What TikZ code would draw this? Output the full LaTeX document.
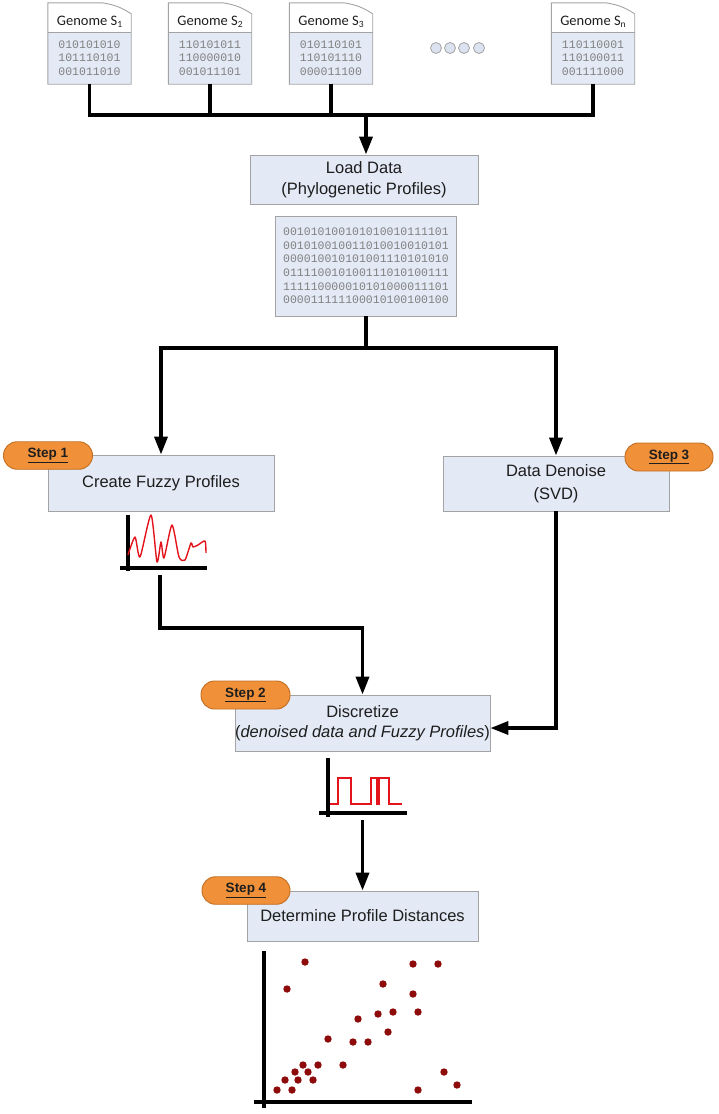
\documentclass[tikz,border=0pt]{standalone}
\usepackage{fontspec}
\setmainfont{Liberation Sans}
\newfontfamily\calf{Carlito}
\newfontfamily\monof{Liberation Mono}
\usetikzlibrary{arrows.meta}
\definecolor{boxfill}{HTML}{E3E9F5}
\definecolor{boxline}{HTML}{A3A3A3}
\definecolor{badgefill}{HTML}{F0913A}
\definecolor{badgeline}{HTML}{C26E22}
\definecolor{bitgray}{HTML}{808080}
\definecolor{txt}{HTML}{1E1E1E}
\definecolor{curvered}{HTML}{E3141C}
\definecolor{dotred}{HTML}{8E0B0B}
\definecolor{dotfill}{HTML}{DCE3F0}
\newcommand\gsub[1]{\raisebox{-2.2pt}{\fontsize{9.5}{10}\selectfont #1}}
\newcommand\gdoc[6]{%
  \node[docnode] (#1) at (#2,43.5) {};
  \fill[boxfill] ([yshift=-30pt]#1.north west) rectangle (#1.south east);
  \draw[boxline, line width=0.9pt] ([yshift=-30pt]#1.north west) -- ([yshift=-30pt]#1.north east);
  \draw[boxline, line width=0.9pt] (#1.north west) -- ([xshift=-29pt]#1.north east)
     to[bend left=12] ([yshift=-11pt]#1.north east) -- (#1.south east) -- (#1.south west) -- cycle;
  \node[doclabel] at ([yshift=-19pt]#1.north) {#3};
  \node[bits] at ([yshift=-55pt]#1.north) {#4\\#5\\#6};
}
\tikzset{
  docnode/.style={minimum width=83pt, minimum height=81pt, inner sep=0pt},
  doclabel/.style={font=\calf\fontsize{14.5}{16}\selectfont, text=txt, inner sep=0pt},
  bits/.style={font=\monof\fontsize{11.5}{13.5}\selectfont, text=bitgray, align=center, inner sep=0pt},
  procbox/.style={draw=boxline, fill=boxfill, line width=0.9pt, inner sep=0pt, align=center,
     text=txt, font=\fontsize{16.5}{21}\selectfont},
  badge/.style={draw=badgeline, fill=badgefill, line width=0.9pt, rounded corners=13.5pt,
     minimum width=89pt, minimum height=27.5pt, inner sep=0pt, text=txt,
     font=\bfseries\fontsize{13.5}{16}\selectfont},
  conn/.style={line width=3.5pt, black},
  arr/.style={conn, -{Triangle[width=13pt,length=18pt]}},
  axis/.style={line width=3.2pt, black},
}
\begin{document}
\begin{tikzpicture}[x=1pt,y=-1pt]
\useasboundingbox (0,0) rectangle (718,1114);
% genome documents
\gdoc{g1}{89.5}{Genome S\gsub{1}}{010101010}{101110101}{001011010}
\gdoc{g2}{210}{Genome S\gsub{2}}{110101011}{110000010}{001011101}
\gdoc{g3}{331}{Genome S\gsub{3}}{010110101}{110101110}{000011100}
\gdoc{gn}{593}{Genome S\gsub{n}}{110110001}{110100011}{001111000}
% ellipsis dots
\foreach \x/\n in {436/d1,450/d2,464/d3,479/d4}
  \node[circle, draw=boxline, fill=dotfill, line width=0.8pt, minimum size=11pt, inner sep=0pt] (\n) at (\x,48) {};
% boxes
\node[procbox, minimum width=228pt, minimum height=49pt] (load) at (364,179.5)
  {Load Data\\(Phylogenetic Profiles)};
\node[procbox, minimum width=181pt, minimum height=100pt,
  font=\monof\fontsize{11.5}{13.6}\selectfont, text=bitgray] (mat) at (366,266)
  {001010100101010010111101\\001010010011010010010101\\000010010101001110101010\\011110010100111010100111\\111110000010101000011101\\000011111100010100100100};
\node[procbox, minimum width=226pt, minimum height=56pt] (fuzzy) at (161,483) {Create Fuzzy Profiles};
\node[procbox, minimum width=226pt, minimum height=55pt, font=\fontsize{16.5}{23}\selectfont] (denoise) at (556,483.5) {Data Denoise\\(SVD)};
\node[procbox, minimum width=233pt, minimum height=56pt, font=\fontsize{16.5}{20}\selectfont] (disc) at (362.5,723)
  {Discretize\\(\textit{denoised data and Fuzzy Profiles})};
\node[procbox, minimum width=231pt, minimum height=50pt] (dist) at (362.5,916) {Determine Profile Distances};
% badges
\node[badge] (s1) at (48,455.5) {\underline{Step 1}};
\node[badge, minimum width=88pt, minimum height=28pt] (s3) at (669,457) {\underline{Step 3}};
\node[badge, minimum height=28pt] (s2) at (245.5,695) {\underline{Step 2}};
\node[badge, minimum width=88pt] (s4) at (246,890.5) {\underline{Step 4}};
% top bus
\coordinate (busL) at (89.5,115);
\coordinate (bus) at (366,115);
\draw[conn] (g1.south) -- (g1.south |- busL) -- (gn.south |- busL) -- (gn.south);
\draw[conn] (g2.south) -- (g2.south |- busL);
\draw[conn] (g3.south) -- (g3.south |- busL);
\draw[arr] (bus) -- (bus |- load.north);
% split
\coordinate (split) at (366,348);
\draw[conn] (mat.south) -- (split);
\draw[arr] (split) -| (fuzzy.north);
\draw[arr] (split) -| (denoise.north);
% fuzzy chart
\draw[axis] (128,515) -- (128,571);
\draw[axis] (120,568) -- (207,568);
\draw[curvered, line width=1.4pt, line join=round] plot[smooth, tension=0.4] coordinates
  {(128,555) (135,537) (140,557) (151,515) (157,562) (161,542) (164,558) (172,525) (179,557) (185,560) (191,543) (193,547) (198,545) (205,541) (206,553)};
\coordinate (fzout) at (160,575);
\draw[arr] (fzout) -- (160,628) -| (disc.north);
\draw[arr] (denoise.south) |- ([yshift=-5pt]disc.east);
% discrete chart
\draw[axis] (328,758) -- (328,817);
\draw[axis] (319,813) -- (407,813);
\draw[curvered, line width=1.3pt] (330,804) -- (338,804) -- (338,778) -- (351,778) -- (351,804) -- (371,804) -- (371,778) -- (377,778) -- (377,804) -- (379,804) -- (379,778) -- (389,778) -- (389,804) -- (402,804);
\coordinate (dcout) at (362.5,820);
\draw[arr] (dcout) -- (dist.north);
% scatter
\draw[axis] (264,951) -- (264,1108);
\draw[axis] (254,1102) -- (472,1102);
\foreach \x/\y in {305/962,413/964,438/964,287/989,383/984,413/994,393/1012,418/1012,378/1014,358/1019,388/1032,328/1039,353/1042,368/1042,303/1065,318/1065,343/1065,295/1072,308/1072,285/1080,298/1080,313/1080,277/1090,292/1090,418/1090,444/1072,457/1085}
  \fill[dotred] (\x,\y) circle (3.7pt);
\end{tikzpicture}
\end{document}
